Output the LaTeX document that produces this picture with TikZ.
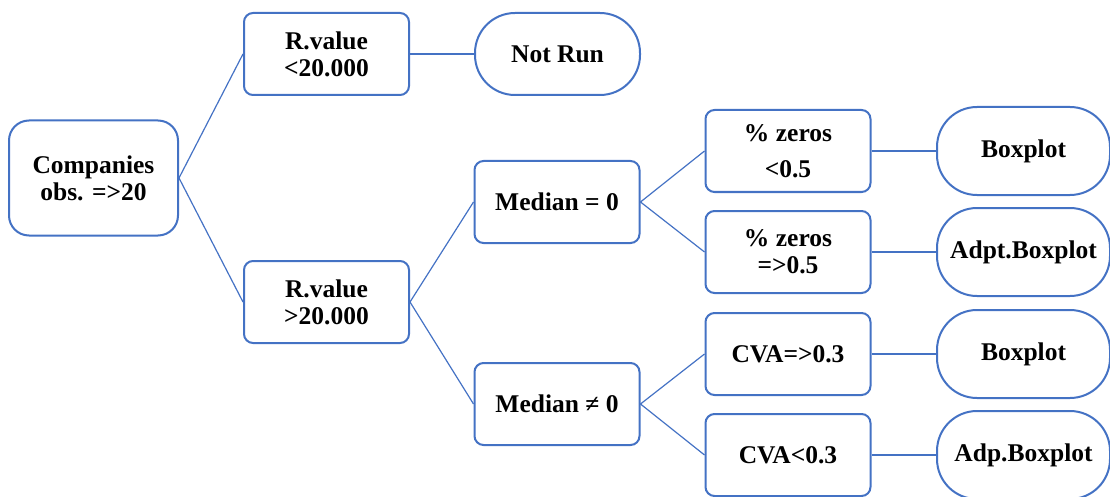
\documentclass[tikz,border=0pt]{standalone}
\usepackage{fontspec}
\setmainfont{Liberation Serif}
\definecolor{lineblue}{HTML}{4472C4}
\begin{document}
\begin{tikzpicture}[x=1pt,y=-1pt,
  txt/.style={align=center, inner sep=0pt, font=\bfseries\fontsize{25.5}{27}\selectfont},
  box/.style={txt, draw=lineblue, line width=2pt, rounded corners=9pt,
    minimum width=165pt, minimum height=82pt},
  bigbox/.style={box, rounded corners=20pt, minimum width=169pt, minimum height=115pt},
  endbox/.style={txt, draw=lineblue, line width=2pt, rounded corners=40pt,
    minimum width=173pt, minimum height=88pt},
  link/.style={draw=lineblue, line width=1.2pt}]
\useasboundingbox (0,0) rectangle (1110,497);
\clip (0,0) rectangle (1110,497);

% decision boxes
\node[bigbox] (comp) at (93.5,178) {Companies\\obs. =>20};
\node[box] (rlow)  at (326.5,54)  {R.value\\<20.000};
\node[box] (rhigh) at (326.5,302) {R.value\\>20.000};
\node[box] (med0)  at (557,202) {Median = 0};
\node[box] (medn)  at (557,404) {Median \char"2260{} 0};
\node[box] (zlow)  at (788,151)  {\% zeros\\[9pt]<0.5};
\node[box] (zhigh) at (788,252) {\% zeros\\=>0.5};
\node[box] (cvah)  at (788,354)  {CVA=>0.3};
\node[box] (cval)  at (788,455)  {CVA<0.3};

% outcomes
\node[endbox, minimum width=165pt, minimum height=82pt] (norun) at (557.5,54) {Not Run};
\node[endbox] (bp1)  at (1023.5,151) {Boxplot};
\node[endbox] (abp)  at (1023.5,252) {Adpt.Boxplot};
\node[endbox] (bp2)  at (1023.5,354) {Boxplot};
\node[endbox] (adbp) at (1023.5,455) {Adp.Boxplot};

% connectors
\draw[link] (comp.east) -- (rlow.west);
\draw[link] (comp.east) -- (rhigh.west);
\draw[link] (rlow.east) -- (norun.west);
\draw[link] (rhigh.east) -- (med0.west);
\draw[link] (rhigh.east) -- (medn.west);
\draw[link] (med0.east) -- (zlow.west);
\draw[link] (med0.east) -- (zhigh.west);
\draw[link] (medn.east) -- (cvah.west);
\draw[link] (medn.east) -- (cval.west);
\draw[link] (zlow.east) -- (bp1.west);
\draw[link] (zhigh.east) -- (abp.west);
\draw[link] (cvah.east) -- (bp2.west);
\draw[link] (cval.east) -- (adbp.west);
\end{tikzpicture}
\end{document}
